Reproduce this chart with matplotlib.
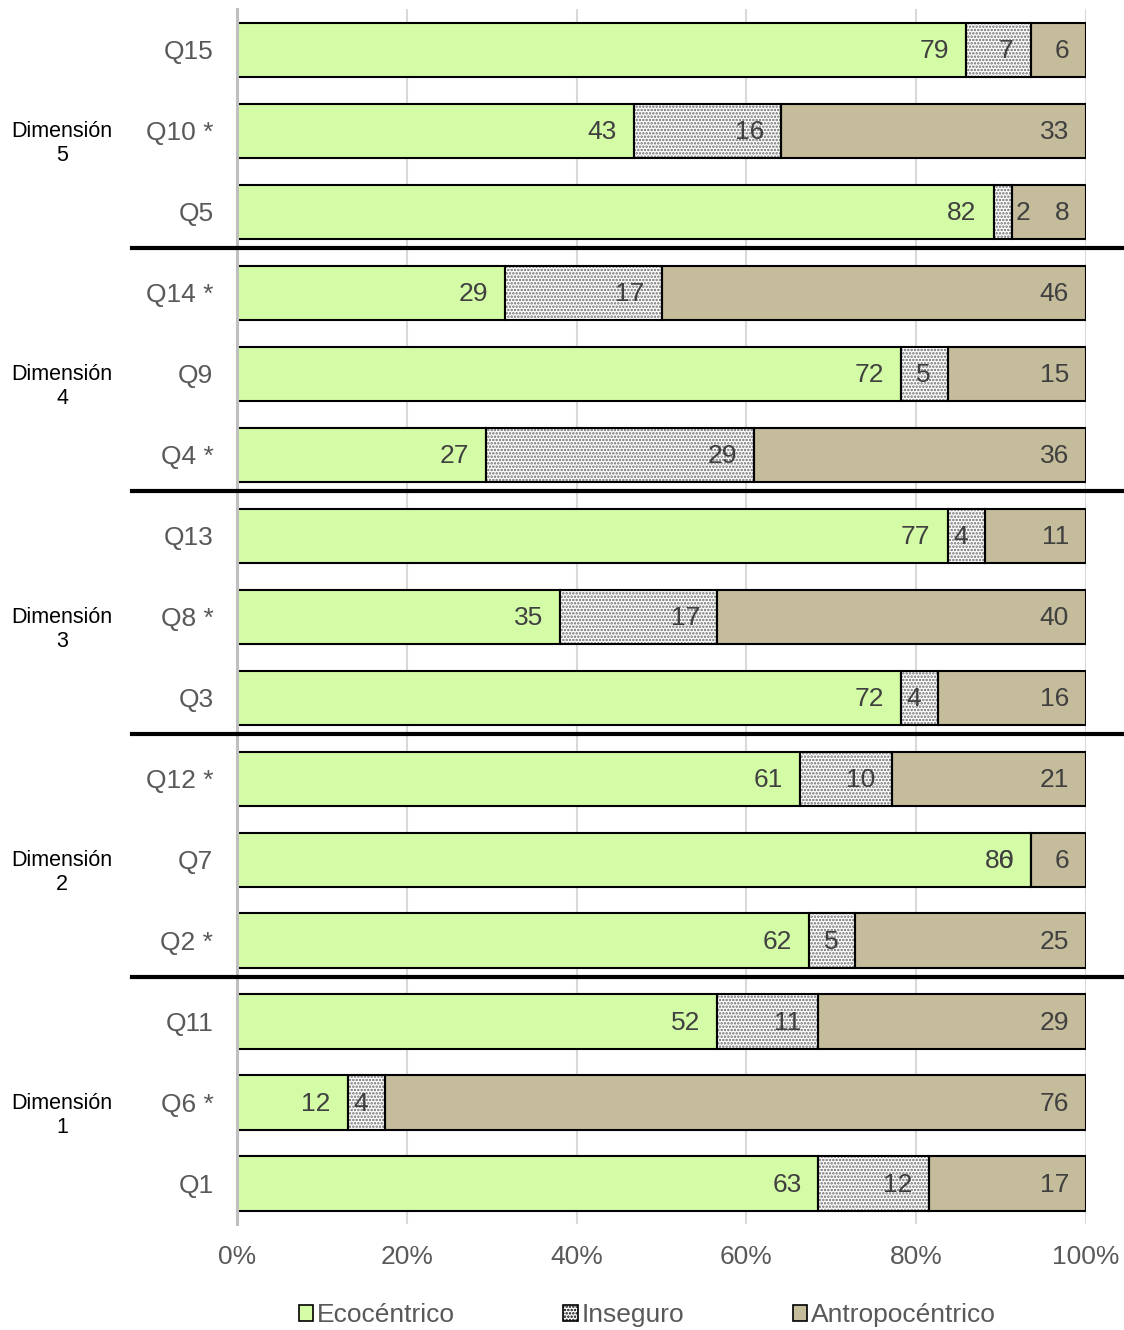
import numpy as np
import matplotlib
matplotlib.use('Agg')
import matplotlib.pyplot as plt
from matplotlib.patches import Patch

plt.rcParams['font.family'] = ['Liberation Sans', 'DejaVu Sans']
plt.rcParams['hatch.linewidth'] = 1.2

# preguntas de abajo hacia arriba
preguntas = ['Q1', 'Q6 *', 'Q11', 'Q2 *', 'Q7', 'Q12 *', 'Q3', 'Q8 *', 'Q13',
             'Q4 *', 'Q9', 'Q14 *', 'Q5', 'Q10 *', 'Q15']
ecocentrico = [63, 12, 52, 62, 86, 61, 72, 35, 77, 27, 72, 29, 82, 43, 79]
inseguro = [12, 4, 11, 5, 0, 10, 4, 17, 4, 29, 5, 17, 2, 16, 7]
antropocentrico = [17, 76, 29, 25, 6, 21, 16, 40, 11, 36, 15, 46, 8, 33, 6]
dimensiones = ['Dimensión\n1', 'Dimensión\n2', 'Dimensión\n3', 'Dimensión\n4', 'Dimensión\n5']
xticks = [0, 0.2, 0.4, 0.6, 0.8, 1.0]
xlabels = ['0%', '20%', '40%', '60%', '80%', '100%']

c_eco = '#d4fca6'
c_antro = '#c4bc9a'

eco = np.array(ecocentrico, dtype=float)
ins = np.array(inseguro, dtype=float)
ant = np.array(antropocentrico, dtype=float)
total = eco + ins + ant
p_eco = eco / total
p_ins = ins / total
p_ant = ant / total

fig = plt.figure(figsize=(11.24, 13.3), dpi=100)
ax = fig.add_axes([0.2109, 0.0797, 0.7553, 0.9135])

y = np.arange(len(preguntas))
h = 0.667
ax.barh(y, p_eco, height=h, color=c_eco, edgecolor='black', linewidth=1.5, zorder=3)
# relleno punteado y borde por separado
ax.barh(y, p_ins, left=p_eco, height=h, color='white', edgecolor='#6a6a6a',
        linewidth=0, hatch='.....', zorder=3)
ax.barh(y, p_ins, left=p_eco, height=h, fill=False, edgecolor='black', linewidth=1.5, zorder=4)
ax.barh(y, p_ant, left=p_eco + p_ins, height=h, color=c_antro, edgecolor='black',
        linewidth=1.5, zorder=3)

# etiquetas de valor al final de cada segmento
for i in range(len(preguntas)):
    ends = [p_eco[i], p_eco[i] + p_ins[i], 1.0]
    vals = [ecocentrico[i], inseguro[i], antropocentrico[i]]
    for k in range(3):
        if preguntas[i] == 'Q5' and k == 1:
            ax.annotate(str(vals[k]), (ends[k], i), xytext=(3, -1), textcoords='offset pixels',
                        ha='left', va='center', fontsize=19, color='#404040', zorder=5)
        else:
            ax.annotate(str(vals[k]), (ends[k], i), xytext=(-17, -1), textcoords='offset pixels',
                        ha='right', va='center', fontsize=19, color='#404040', zorder=5)

ax.set_xlim(0, 1)
ax.set_ylim(-0.5, len(preguntas) - 0.5)
ax.set_xticks(xticks)
ax.set_xticklabels(xlabels, fontsize=19, color='#595959')
ax.set_yticks(y)
ax.set_yticklabels(preguntas, fontsize=19, color='#595959')
ax.tick_params(axis='x', length=0, pad=15)
ax.tick_params(axis='y', length=0, pad=17)
ax.grid(axis='x', color='#d9d9d9', linewidth=1.5, zorder=0)
for s in ['top', 'right', 'bottom']:
    ax.spines[s].set_visible(False)
ax.spines['left'].set_color('#bfbfbf')
ax.spines['left'].set_linewidth(2.2)
ax.spines['left'].set_zorder(5)

# lineas separadoras entre dimensiones
trans = ax.get_yaxis_transform()
for sep in [2.5, 5.5, 8.5, 11.5]:
    ax.plot([-0.1237, 1.045], [sep + 0.045, sep + 0.045], color='black', linewidth=3,
            transform=trans, clip_on=False, zorder=6)

for j, nombre in enumerate(dimensiones):
    ax.text(-0.2061, 3 * j + 1 - 0.16, nombre, transform=trans, ha='center', va='center',
            multialignment='center', fontsize=15.5, color='black', linespacing=1.15)

handles = [Patch(facecolor=c_eco, edgecolor='black', linewidth=1.2),
           Patch(facecolor='white', edgecolor='black', linewidth=1.2, hatch='.....'),
           Patch(facecolor=c_antro, edgecolor='black', linewidth=1.2)]
leg = fig.legend(handles, ['Ecocéntrico', 'Inseguro', 'Antropocéntrico'], loc='center',
                 bbox_to_anchor=(0.576, 0.0113), ncol=3, frameon=False, fontsize=19,
                 handlelength=0.55, handleheight=0.55, handletextpad=0.15, columnspacing=4.1)
for t in leg.get_texts():
    t.set_color('#595959')

plt.savefig('out.png', dpi=100)
plt.close()
